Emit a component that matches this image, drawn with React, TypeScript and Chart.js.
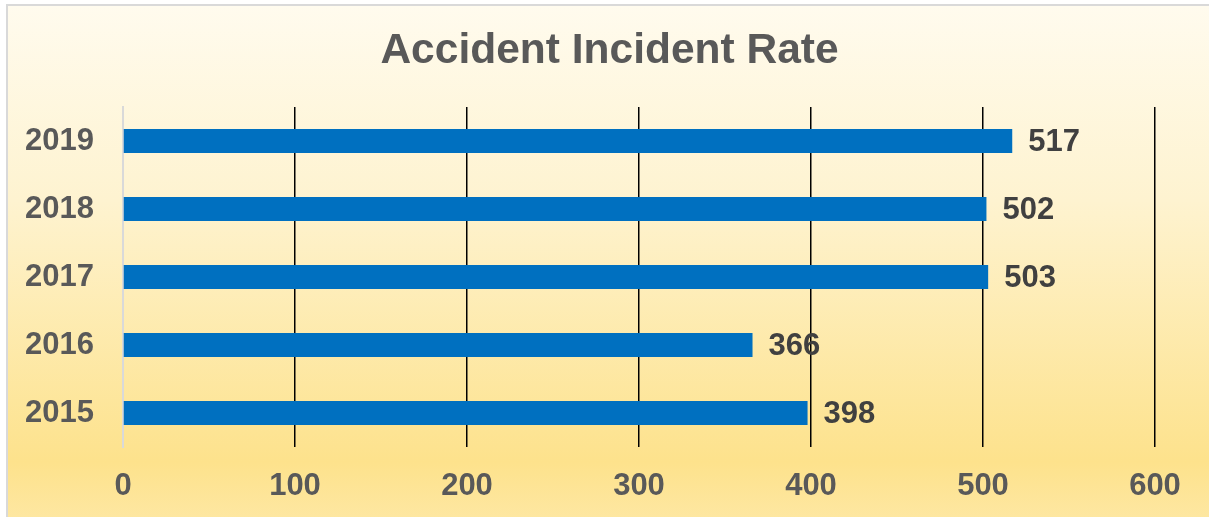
import React, { useEffect, useRef } from "react";
import { Chart, registerables } from "chart.js";

Chart.register(...registerables);

const years = ["2015", "2016", "2017", "2018", "2019"];
const incidentRates = [398, 366, 503, 502, 517];
const xTicks = [0, 100, 200, 300, 400, 500, 600];
const chartTitle = "Accident Incident Rate";

const FONT = "'Liberation Sans', Arial, Helvetica, sans-serif";

const valueLabels = {
  id: "valueLabels",
  afterDatasetsDraw(chart: any) {
    const ctx = chart.ctx;
    const meta = chart.getDatasetMeta(0);
    ctx.save();
    ctx.font = `bold 31px ${FONT}`;
    ctx.fillStyle = "#404040";
    ctx.textAlign = "left";
    ctx.textBaseline = "middle";
    meta.data.forEach((bar: any, i: number) => {
      const v = chart.data.datasets[0].data[i];
      ctx.fillText(String(v), bar.x + 16, bar.y + 1);
    });
    ctx.restore();
  },
};

const centeredTitle = {
  id: "centeredTitle",
  afterDraw(chart: any) {
    const ctx = chart.ctx;
    ctx.save();
    ctx.font = `bold 42.5px ${FONT}`;
    ctx.fillStyle = "#595959";
    ctx.textAlign = "center";
    ctx.textBaseline = "middle";
    ctx.fillText(chartTitle, chart.width / 2 + 5, 51);
    ctx.restore();
  },
};

export default function App() {
  const ref = useRef<HTMLCanvasElement | null>(null);

  useEffect(() => {
    document.body.style.margin = "0";
    if (!ref.current) return;
    const chart = new Chart(ref.current, {
      type: "bar",
      data: {
        labels: years,
        datasets: [
          {
            data: incidentRates,
            backgroundColor: "#0070c0",
            borderWidth: 0,
            categoryPercentage: 1,
            barPercentage: 24 / 68,
          },
        ],
      },
      options: {
        indexAxis: "y",
        animation: false,
        responsive: false,
        maintainAspectRatio: false,
        layout: { padding: { top: 107, right: 54, left: 0, bottom: 0 } },
        plugins: {
          legend: { display: false },
          tooltip: { enabled: false },
          title: { display: false },
        },
        scales: {
          x: {
            type: "linear",
            min: 0,
            max: 600,
            afterBuildTicks: (scale: any) => {
              scale.ticks = xTicks.map((v) => ({ value: v }));
            },
            afterFit: (scale: any) => {
              scale.height = 70;
            },
            grid: {
              drawTicks: false,
              color: (c: any) => (c.tick && c.tick.value === 0 ? "rgba(0,0,0,0)" : "#000000"),
              lineWidth: 1.5,
            },
            border: { display: false },
            ticks: {
              color: "#595959",
              font: { family: FONT, size: 31, weight: "bold" },
              padding: 21,
              maxRotation: 0,
            },
          },
          y: {
            reverse: true,
            afterFit: (scale: any) => {
              scale.width = 123;
            },
            grid: { display: false, drawTicks: false },
            border: { display: true, color: "#d9d9d9", width: 2 },
            ticks: {
              color: "#595959",
              font: { family: FONT, size: 31, weight: "bold" },
              padding: 29,
            },
          },
        },
      },
      plugins: [valueLabels, centeredTitle],
    });
    return () => chart.destroy();
  }, []);

  return (
    <div style={{ position: "absolute", left: 0, top: 0, width: 1209, height: 517, overflow: "hidden" }}>
      <div
        style={{
          position: "absolute",
          left: 6,
          top: 4,
          width: 1240,
          height: 560,
          border: "2px solid #d9d9d9",
          boxSizing: "border-box",
          background:
            "linear-gradient(to bottom, #fffbee 0%, #fef3d0 35%, #fde28c 82%, #feebb2 100%)",
        }}
      />
      <canvas
        ref={ref}
        width={1209}
        height={517}
        style={{ position: "absolute", left: 0, top: 0, width: 1209, height: 517 }}
      />
    </div>
  );
}
